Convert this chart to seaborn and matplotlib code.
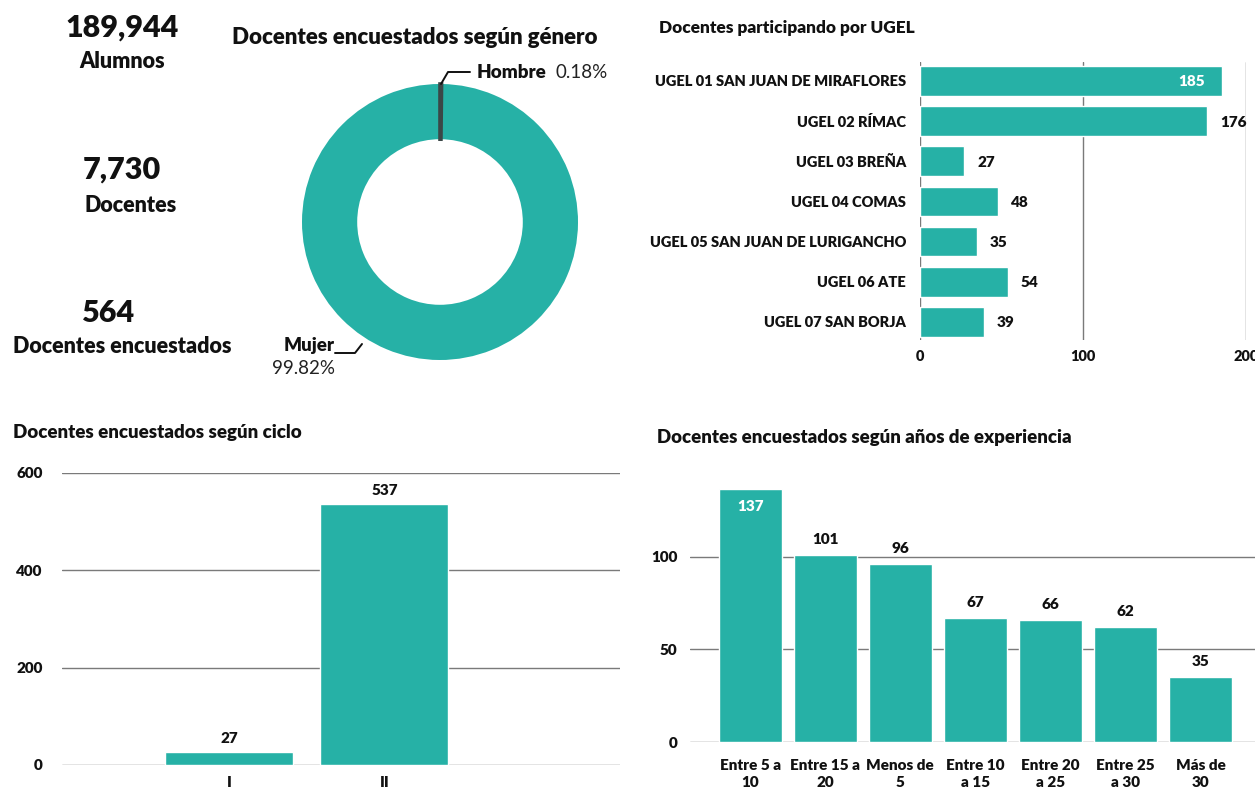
import matplotlib
matplotlib.use("Agg")
import matplotlib.pyplot as plt
import seaborn as sns
import pandas as pd
import numpy as np

# ---------------- data ----------------
kpi_values = ["189,944", "7,730", "564"]
kpi_labels = ["Alumnos", "Docentes", "Docentes encuestados"]

gender_labels = ["Hombre", "Mujer"]
gender_pct = [0.18, 99.82]

ugel_names = ["UGEL 01 SAN JUAN DE MIRAFLORES", "UGEL 02 RÍMAC", "UGEL 03 BREÑA",
              "UGEL 04 COMAS", "UGEL 05 SAN JUAN DE LURIGANCHO", "UGEL 06 ATE",
              "UGEL 07 SAN BORJA"]
ugel_values = [185, 176, 27, 48, 35, 54, 39]

ciclo_labels = ["I", "II"]
ciclo_values = [27, 537]

exp_labels = ["Entre 5 a\n10", "Entre 15 a\n20", "Menos de\n5", "Entre 10\na 15",
              "Entre 20\na 25", "Entre 25\na 30", "Más de\n30"]
exp_values = [137, 101, 96, 67, 66, 62, 35]

TEAL = "#26B1A6"
DARK = "#3b4747"
GRID = "#7a7a7a"
FONT = "Lato"
BW = "heavy"

sns.set_theme(style="white")
plt.rcParams["font.family"] = [FONT, "DejaVu Sans"]
plt.rcParams["font.weight"] = "bold"

W, H = 1255, 789
fig = plt.figure(figsize=(W / 100, H / 100), dpi=100)


def px_axes(x0, y0, x1, y1):
    return fig.add_axes([x0 / W, 1 - y1 / H, (x1 - x0) / W, (y1 - y0) / H])


def ftext(x, y, s, **kw):
    fig.text(x / W, 1 - y / H, s, **kw)


# ---------------- KPIs ----------------
kpi_num_pos = [(122, 28), (122, 170), (109, 313)]
kpi_lab_pos = [(122, 61), (131, 205), (122, 347)]
for (x, y), v in zip(kpi_num_pos, kpi_values):
    ftext(x, y, v, ha="center", va="center", fontsize=22, fontweight=BW, color="#111111")
for (x, y), l in zip(kpi_lab_pos, kpi_labels):
    ftext(x, y, l, ha="center", va="center", fontsize=15.5, fontweight=BW, color="#111111")

# ---------------- Donut ----------------
cx, cy, r = 440, 222, 138
half = 150
ax1 = px_axes(cx - half, cy - half, cx + half, cy + half)
lim = half / r
wedges, _ = ax1.pie(gender_pct, colors=[DARK, TEAL], startangle=90, counterclock=False,
                    radius=1, wedgeprops=dict(width=0.4, linewidth=0))
wedges[0].set_edgecolor(DARK)
wedges[0].set_linewidth(2.6)
wedges[0].set_zorder(5)
ax1.set_xlim(-lim, lim)
ax1.set_ylim(-lim, lim)
ax1.set_aspect("equal")
ax1.axis("off")

ftext(415, 37, "Docentes encuestados según género", ha="center", va="center",
      fontsize=16, fontweight=BW, color="#111111")


def fline(xs, ys):
    fig.add_artist(plt.Line2D([x / W for x in xs], [1 - y / H for y in ys],
                              color="#111111", lw=1.4))


fline([441, 448, 470], [84, 72, 72])
ftext(477, 72, "Hombre", ha="left", va="center", fontsize=13.5, fontweight=BW, color="#111111")
ftext(555, 72, "0.18%", ha="left", va="center", fontsize=13.5, fontweight="normal", color="#222222")
fline([362, 355, 335], [344, 353, 353])
ftext(335, 345, "Mujer", ha="right", va="center", fontsize=13.5, fontweight=BW, color="#111111")
ftext(335, 368, "99.82%", ha="right", va="center", fontsize=13.5, fontweight="normal", color="#222222")

# ---------------- UGEL horizontal bars ----------------
ax2 = px_axes(920, 62, 1246, 340)
df_u = pd.DataFrame({"ugel": ugel_names, "n": ugel_values})
sns.barplot(data=df_u, x="n", y="ugel", orient="h", color=TEAL, saturation=1,
            width=0.74, ax=ax2, zorder=3)
ax2.set_xlim(0, 200)
ax2.set_ylim(6.45, -0.47)
ax2.set_xticks([0, 100, 200])
ax2.set_xticklabels(["0", "100", "200"])
ax2.xaxis.grid(True, color=GRID, lw=1)
ax2.set_axisbelow(True)
for s in ax2.spines.values():
    s.set_visible(False)
ax2.tick_params(axis="both", length=0)
ax2.tick_params(axis="x", pad=7)
ax2.tick_params(axis="y", pad=10)
for t in ax2.get_yticklabels() + ax2.get_xticklabels():
    t.set_fontsize(10.5)
    t.set_fontweight(BW)
    t.set_color("#111111")
ax2.set_xlabel("")
ax2.set_ylabel("")
for i, v in enumerate(ugel_values):
    if v == max(ugel_values):
        ax2.text(v - 10, i, str(v), ha="right", va="center_baseline", color="white",
                 fontsize=11, fontweight=BW, zorder=4)
    else:
        ax2.text(v + 8, i, str(v), ha="left", va="center_baseline", color="#111111",
                 fontsize=11, fontweight=BW, zorder=4)
ftext(659, 28, "Docentes participando por UGEL", ha="left", va="center",
      fontsize=12.4, fontweight=BW, color="#111111")

# ---------------- Ciclo vertical bars ----------------
ax3 = px_axes(62, 473, 620, 765)
df_c = pd.DataFrame({"ciclo": ciclo_labels, "n": ciclo_values})
sns.barplot(data=df_c, x="ciclo", y="n", color=TEAL, saturation=1, width=0.826,
            ax=ax3, zorder=3)
ax3.set_ylim(0, 600)
ax3.set_xlim(-1.08, 2.52)
ax3.set_yticks([0, 200, 400, 600])
ax3.yaxis.grid(True, color=GRID, lw=1)
ax3.set_axisbelow(True)
for s in ax3.spines.values():
    s.set_visible(False)
ax3.tick_params(axis="both", length=0)
ax3.tick_params(axis="y", pad=14)
ax3.tick_params(axis="x", pad=8)
for t in ax3.get_yticklabels() + ax3.get_xticklabels():
    t.set_fontsize(11)
    t.set_fontweight(BW)
    t.set_color("#111111")
ax3.set_xlabel("")
ax3.set_ylabel("")
for i, v in enumerate(ciclo_values):
    ax3.text(i, v + 14, str(v), ha="center", va="bottom", fontsize=11,
             fontweight=BW, color="#111111")
ftext(13, 433, "Docentes encuestados según ciclo", ha="left", va="center",
      fontsize=13.5, fontweight=BW, color="#111111")

# ---------------- Experiencia vertical bars ----------------
ax4 = px_axes(690, 480, 1255, 742)
df_e = pd.DataFrame({"exp": exp_labels, "n": exp_values})
sns.barplot(data=df_e, x="exp", y="n", color=TEAL, saturation=1, width=0.84,
            ax=ax4, zorder=3)
ax4.set_ylim(0, 141.6)
ax4.set_xlim(-0.8, 6.72)
ax4.set_yticks([0, 50, 100])
ax4.yaxis.grid(True, color=GRID, lw=1)
ax4.set_axisbelow(True)
for s in ax4.spines.values():
    s.set_visible(False)
ax4.tick_params(axis="both", length=0)
ax4.tick_params(axis="y", pad=9)
ax4.tick_params(axis="x", pad=12)
for t in ax4.get_yticklabels() + ax4.get_xticklabels():
    t.set_fontsize(11)
    t.set_fontweight(BW)
    t.set_color("#111111")
    t.set_linespacing(1.35)
ax4.set_xlabel("")
ax4.set_ylabel("")
for i, v in enumerate(exp_values):
    if v == max(exp_values):
        ax4.text(i, v - 6, str(v), ha="center", va="top", fontsize=11,
                 fontweight=BW, color="white", zorder=4)
    else:
        ax4.text(i, v + 5, str(v), ha="center", va="bottom", fontsize=11,
                 fontweight=BW, color="#111111", zorder=4)
ftext(657, 437, "Docentes encuestados según años de experiencia", ha="left", va="center",
      fontsize=13.4, fontweight=BW, color="#111111")

fig.savefig("out.png", dpi=100)
